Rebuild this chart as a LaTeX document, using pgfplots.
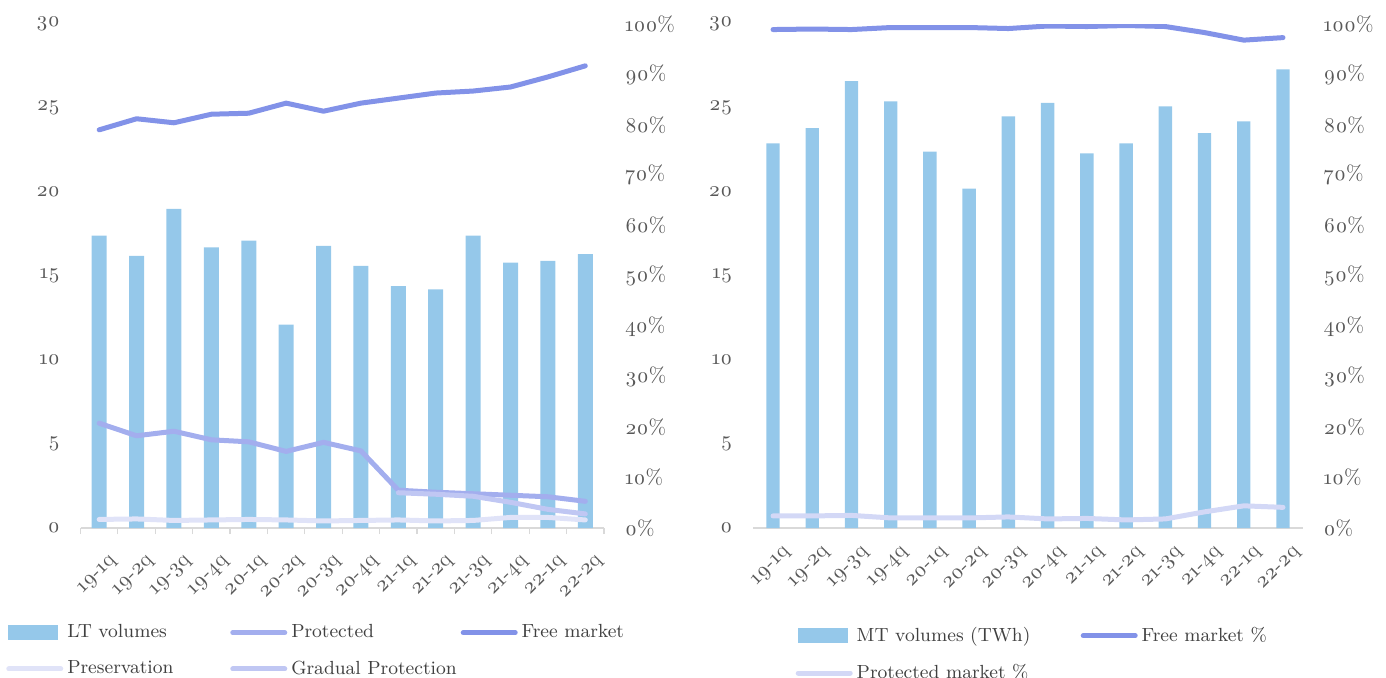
\documentclass[border=0pt]{standalone}
\usepackage{fontspec}
\setmainfont{Latin Modern Roman}[Numbers=OldStyle]
\usepackage{pgfplots}
\pgfplotsset{compat=1.18}
\usepackage{pgfplotstable}
\definecolor{barblue}{HTML}{95C8EA}
\definecolor{freec}{HTML}{8292E8}
\definecolor{protc}{HTML}{A3AEEE}
\definecolor{presc}{HTML}{E0E3F8}
\definecolor{gradc}{HTML}{C0C7F3}
\definecolor{pmc}{HTML}{D3D8F6}
\definecolor{tickc}{HTML}{595959}
\definecolor{legc}{HTML}{404040}
\definecolor{axisc}{HTML}{D9D9D9}

\pgfplotstableread{
x lt prot free pres grad
0 17.4 20.8 79.0 1.7 nan
1 16.2 18.3 81.2 1.8 nan
2 19.0 19.2 80.4 1.5 nan
3 16.7 17.5 82.1 1.6 nan
4 17.1 17.1 82.3 1.7 nan
5 12.1 15.2 84.3 1.6 nan
6 16.8 17.0 82.7 1.4 nan
7 15.6 15.3 84.3 1.5 nan
8 14.4 7.5 85.3 1.6 7.0
9 14.2 7.1 86.3 1.4 6.7
10 17.4 6.8 86.7 1.5 6.3
11 15.8 6.5 87.5 2.1 5.1
12 15.9 6.2 89.5 2.1 3.7
13 16.3 5.3 91.7 1.6 2.8
}\leftdata

\pgfplotstableread{
x mt free pm
0 22.9 98.9 2.4
1 23.8 99.0 2.4
2 26.6 98.9 2.5
3 25.4 99.3 2.0
4 22.4 99.3 2.0
5 20.2 99.3 2.0
6 24.5 99.1 2.2
7 25.3 99.6 1.8
8 22.3 99.5 1.9
9 22.9 99.7 1.6
10 25.1 99.5 1.8
11 23.5 98.3 3.2
12 24.2 96.8 4.4
13 27.3 97.3 4.1
}\rightdata

\pgfplotsset{
  every axis/.append style={
    scale only axis,
    xmin=-0.5, xmax=13.5,
    /pgf/number format/assume math mode=true,
    tick label style={font=\fontsize{10.5}{12}\selectfont, text=tickc},
  },
  lineplot/.style={line width=2.5pt, line join=round, line cap=round, no markers},
  linelegend/.style={legend image code/.code={\draw[##1] (0pt,0pt) -- (26pt,0pt);}},
}

\begin{document}
\begin{tikzpicture}
\useasboundingbox (0,0) rectangle (693pt,338.5pt);

% ---------- LEFT PANEL ----------
\begin{axis}[
  at={(40.25pt,74.5pt)}, anchor=south west,
  width=261.75pt, height=252pt,
  ymin=0, ymax=30, ytick={0,5,...,30},
  xtick={0,...,13},
  xticklabels={19-1q,19-2q,19-3q,19-4q,20-1q,20-2q,20-3q,20-4q,21-1q,21-2q,21-3q,21-4q,22-1q,22-2q},
  xticklabel style={rotate=45, anchor=east, xshift=1pt, yshift=-13pt},
  major x tick style={draw=none},
  minor xtick={-0.5,0.5,...,13.5},
  minor tick length=3pt,
  tick align=outside,
  axis x line*=bottom, axis y line*=left,
  y axis line style={draw=none},
  x axis line style={draw=axisc, line width=0.6pt},
  minor x tick style={draw=axisc, line width=0.6pt},
  ytick style={draw=none},
  yticklabel style={xshift=-2.5pt},
]
\addplot[ybar, bar width=7.5pt, fill=barblue, draw=none] table[x=x,y=lt]{\leftdata};
\end{axis}

\begin{axis}[
  at={(40.25pt,74.5pt)}, anchor=south west,
  width=261.75pt, height=252pt,
  ymin=0, ymax=100, ytick={0,10,...,100},
  yticklabel={\pgfmathprintnumber{\tick}\%},
  axis x line=none, axis y line*=right,
  y axis line style={draw=none}, ytick style={draw=none},
  yticklabel style={xshift=7pt},
  legend columns=3,
  legend cell align=left,
  legend style={at={(-0.154,-0.175)}, anchor=north west, draw=none, fill=none,
    font=\fontsize{9.5}{11}\selectfont, text=legc, row sep=6pt,
    /tikz/every even column/.append style={column sep=0pt}},
]
\addlegendimage{legend image code/.code={\fill[barblue] (0pt,-3.5pt) rectangle (24.5pt,3.5pt);}}
\addlegendentry{\makebox[79.5pt][l]{LT volumes}}
\addplot[lineplot, protc, linelegend] table[x=x,y=prot]{\leftdata};
\addlegendentry{\makebox[81pt][l]{Protected}}
\addplot[lineplot, freec, linelegend] table[x=x,y=free]{\leftdata};
\addlegendentry{Free market}
\addplot[lineplot, presc, linelegend] table[x=x,y=pres]{\leftdata};
\addlegendentry{\makebox[79.5pt][l]{Preservation}}
\addplot[lineplot, gradc, linelegend] table[x=x,y=grad]{\leftdata};
\addlegendentry{Gradual Protection}
\end{axis}

% ---------- RIGHT PANEL ----------
\begin{axis}[
  at={(376.7pt,74.5pt)}, anchor=south west,
  width=274.6pt, height=252pt,
  ymin=0, ymax=30, ytick={0,5,...,30},
  xtick={0,...,13},
  xticklabels={19-1q,19-2q,19-3q,19-4q,20-1q,20-2q,20-3q,20-4q,21-1q,21-2q,21-3q,21-4q,22-1q,22-2q},
  xticklabel style={rotate=45, anchor=east, xshift=1pt, yshift=-13pt},
  major x tick style={draw=none},
  axis x line*=bottom, axis y line*=left,
  y axis line style={draw=none},
  x axis line style={draw=axisc, line width=0.6pt},
  ytick style={draw=none},
  yticklabel style={xshift=-7pt},
]
\addplot[ybar, bar width=6.7pt, fill=barblue, draw=none] table[x=x,y=mt]{\rightdata};
\end{axis}

\begin{axis}[
  at={(376.7pt,74.5pt)}, anchor=south west,
  width=274.6pt, height=252pt,
  ymin=0, ymax=100, ytick={0,10,...,100},
  yticklabel={\pgfmathprintnumber{\tick}\%},
  axis x line=none, axis y line*=right,
  y axis line style={draw=none}, ytick style={draw=none},
  yticklabel style={xshift=7pt},
  legend columns=2,
  legend cell align=left,
  legend style={at={(0.0654,-0.180)}, anchor=north west, draw=none, fill=none,
    font=\fontsize{9.5}{11}\selectfont, text=legc, row sep=6pt},
]
\addlegendimage{legend image code/.code={\fill[barblue] (0pt,-3.5pt) rectangle (24.5pt,3.5pt);}}
\addlegendentry{\makebox[110pt][l]{MT volumes (TWh)}}
\addplot[lineplot, freec, linelegend] table[x=x,y=free]{\rightdata};
\addlegendentry{Free market \%}
\addplot[lineplot, pmc, linelegend] table[x=x,y=pm]{\rightdata};
\addlegendentry{Protected market \%}
\end{axis}
\end{tikzpicture}
\end{document}
